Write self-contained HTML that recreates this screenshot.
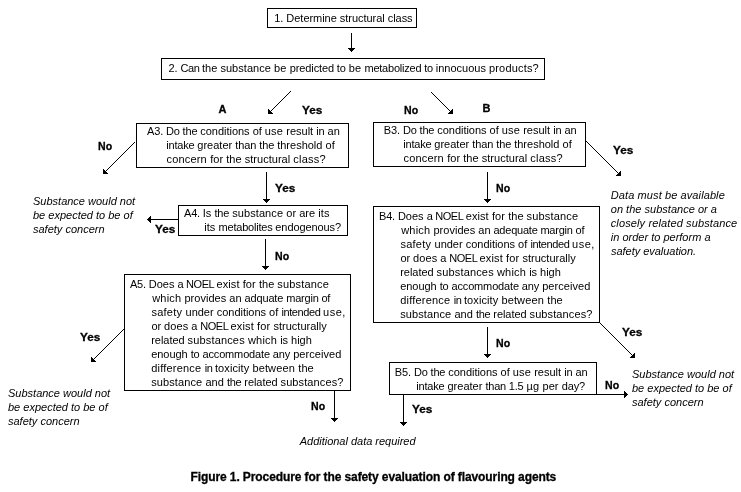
<!DOCTYPE html>
<html>
<head>
<meta charset="utf-8">
<title>Figure 1</title>
<style>
html,body{margin:0;padding:0;background:#fff;}
body{width:741px;height:492px;position:relative;overflow:hidden;font-family:"Liberation Sans",sans-serif;font-size:11px;line-height:14px;color:#000;}
.bx{position:absolute;border:1px solid #000;box-sizing:border-box;}
.t{position:absolute;white-space:pre;}
.b{font-weight:bold;-webkit-text-stroke:0.3px #000;}
.i{font-style:italic;}
.c{font-size:12px;}
svg{position:absolute;left:0;top:0;}
#w{position:absolute;left:0;top:0;width:741px;height:492px;will-change:transform;}
</style>
</head>
<body>
<div id="w">
<div class="bx" style="left:267px;top:8px;width:150px;height:20px;"></div>
<div class="bx" style="left:161px;top:58px;width:384px;height:22px;"></div>
<div class="bx" style="left:136px;top:123px;width:213px;height:45px;"></div>
<div class="bx" style="left:373px;top:122px;width:213px;height:45px;"></div>
<div class="bx" style="left:178px;top:205px;width:170px;height:31px;"></div>
<div class="bx" style="left:124px;top:274px;width:227px;height:117px;"></div>
<div class="bx" style="left:373px;top:206px;width:227px;height:117px;"></div>
<div class="bx" style="left:389px;top:362px;width:208px;height:33px;"></div>
<div class="t" style="left:274.25px;top:11px;letter-spacing:-0.037px;">1. Determine structural class</div>
<div class="t" style="left:168.5px;top:61px;"><span style="letter-spacing:-0.05px">2. </span><span style="letter-spacing:-0.487px">Can </span><span style="letter-spacing:0.037px">the </span><span style="letter-spacing:0.05px">substance </span><span style="letter-spacing:0.15px">be </span><span style="letter-spacing:-0.135px">predicted </span><span style="letter-spacing:-0.083px">to </span><span style="letter-spacing:0.117px">be </span><span style="letter-spacing:-0.225px">metabolized </span><span style="letter-spacing:-0.217px">to </span><span style="letter-spacing:0.005px">innocuous </span><span style="letter-spacing:0.175px">products?</span></div>
<div class="t" style="left:147px;top:124px;"><span style="letter-spacing:-0.15px">A3. </span><span style="letter-spacing:-0.171px">Do the </span><span style="letter-spacing:-0.018px">conditions </span><span style="letter-spacing:-0.033px">of </span><span style="letter-spacing:0.163px">use </span>result <span style="letter-spacing:-0.1px">in </span>an</div>
<div class="t" style="left:166.25px;top:138px;"><span style="letter-spacing:-0.193px">intake </span>greater <span style="letter-spacing:-0.1px">than </span><span style="letter-spacing:-0.088px">the </span><span style="letter-spacing:-0.005px">threshold </span><span style="letter-spacing:0.05px">of</span></div>
<div class="t" style="left:166.5px;top:152px;"><span style="letter-spacing:0.181px">concern </span><span style="letter-spacing:0.05px">for </span><span style="letter-spacing:0.025px">the </span><span style="letter-spacing:0.027px">structural </span><span style="letter-spacing:0.21px">class?</span></div>
<div class="t" style="left:383.75px;top:123px;"><span style="letter-spacing:-0.1px">B3. </span><span style="letter-spacing:-0.171px">Do the </span><span style="letter-spacing:-0.018px">conditions </span><span style="letter-spacing:-0.033px">of </span><span style="letter-spacing:0.162px">use </span>result <span style="letter-spacing:-0.1px">in </span>an</div>
<div class="t" style="left:403.25px;top:137px;"><span style="letter-spacing:-0.193px">intake </span>greater <span style="letter-spacing:-0.1px">than </span><span style="letter-spacing:-0.088px">the </span><span style="letter-spacing:-0.005px">threshold </span><span style="letter-spacing:0.05px">of</span></div>
<div class="t" style="left:403.5px;top:151px;"><span style="letter-spacing:0.181px">concern </span><span style="letter-spacing:0.05px">for </span><span style="letter-spacing:0.025px">the </span><span style="letter-spacing:0.027px">structural </span><span style="letter-spacing:0.21px">class?</span></div>
<div class="t" style="left:184px;top:206px;"><span style="letter-spacing:-0.2px">A4. </span><span style="letter-spacing:0.017px">Is </span><span style="letter-spacing:-0.137px">the </span><span style="letter-spacing:0.075px">substance </span><span style="letter-spacing:0.05px">or </span><span style="letter-spacing:0.013px">are </span><span style="letter-spacing:0.175px">its</span></div>
<div class="t" style="left:204.25px;top:220px;"><span style="letter-spacing:0.05px">its </span><span style="letter-spacing:-0.208px">metabolites </span><span style="letter-spacing:-0.09px">endogenous?</span></div>
<div class="t" style="left:130px;top:277px;"><span style="letter-spacing:-0.225px">A5. </span><span style="letter-spacing:0.01px">Does </span><span style="letter-spacing:-0.325px">a </span><span style="letter-spacing:-0.42px">NOEL </span><span style="letter-spacing:0.083px">exist </span><span style="letter-spacing:0.112px">for </span><span style="letter-spacing:-0.013px">the </span><span style="letter-spacing:0.175px">substance</span></div>
<div class="t" style="left:152.25px;top:291px;"><span style="letter-spacing:0.167px">which </span><span style="letter-spacing:0.028px">provides </span><span style="letter-spacing:-0.05px">an </span><span style="letter-spacing:-0.144px">adquate </span><span style="letter-spacing:-0.193px">margin </span><span style="letter-spacing:-0.25px">of</span></div>
<div class="t" style="left:151.5px;top:305px;"><span style="letter-spacing:0.229px">safety </span>under <span style="letter-spacing:-0.023px">conditions </span><span style="letter-spacing:0.033px">of </span><span style="letter-spacing:-0.406px">intended </span><span style="letter-spacing:0.5px">use,</span></div>
<div class="t" style="left:151.5px;top:319px;"><span style="letter-spacing:-0.083px">or </span><span style="letter-spacing:0.06px">does </span><span style="letter-spacing:-0.1px">a </span><span style="letter-spacing:-0.49px">NOEL </span><span style="letter-spacing:0.158px">exist </span><span style="letter-spacing:0.112px">for </span><span style="letter-spacing:0.014px">structurally</span></div>
<div class="t" style="left:151.25px;top:333px;"><span style="letter-spacing:-0.044px">related </span><span style="letter-spacing:0.155px">substances </span><span style="letter-spacing:0.175px">which </span><span style="letter-spacing:-0.067px">is </span>high</div>
<div class="t" style="left:151.25px;top:347px;"><span style="letter-spacing:-0.057px">enough </span><span style="letter-spacing:-0.133px">to </span><span style="letter-spacing:-0.15px">accommodate </span><span style="letter-spacing:-0.112px">any </span><span style="letter-spacing:0.069px">perceived</span></div>
<div class="t" style="left:151.25px;top:361px;"><span style="letter-spacing:0.2px">difference </span><span style="letter-spacing:-0.433px">in </span><span style="letter-spacing:0.083px">toxicity </span><span style="letter-spacing:0.15px">between </span><span style="letter-spacing:0.1px">the</span></div>
<div class="t" style="left:151.25px;top:375px;"><span style="letter-spacing:0.095px">substance </span><span style="letter-spacing:0.025px">and </span><span style="letter-spacing:-0.25px">the </span><span style="letter-spacing:-0.056px">related </span><span style="letter-spacing:0.11px">substances?</span></div>
<div class="t" style="left:379px;top:209px;"><span style="letter-spacing:-0.175px">B4. </span><span style="letter-spacing:0.01px">Does </span><span style="letter-spacing:-0.325px">a </span><span style="letter-spacing:-0.42px">NOEL </span><span style="letter-spacing:0.083px">exist </span><span style="letter-spacing:0.112px">for </span><span style="letter-spacing:-0.013px">the </span><span style="letter-spacing:0.175px">substance</span></div>
<div class="t" style="left:401.25px;top:223px;"><span style="letter-spacing:0.167px">which </span><span style="letter-spacing:0.028px">provides </span><span style="letter-spacing:-0.05px">an </span><span style="letter-spacing:-0.228px">adequate </span><span style="letter-spacing:-0.229px">margin </span><span style="letter-spacing:-0.05px">of</span></div>
<div class="t" style="left:400.5px;top:237px;"><span style="letter-spacing:0.229px">safety </span>under <span style="letter-spacing:-0.023px">conditions </span><span style="letter-spacing:0.033px">of </span><span style="letter-spacing:-0.406px">intended </span><span style="letter-spacing:0.5px">use,</span></div>
<div class="t" style="left:400.5px;top:251px;"><span style="letter-spacing:-0.083px">or </span><span style="letter-spacing:0.06px">does </span><span style="letter-spacing:-0.1px">a </span><span style="letter-spacing:-0.49px">NOEL </span><span style="letter-spacing:0.158px">exist </span><span style="letter-spacing:0.112px">for </span><span style="letter-spacing:0.014px">structurally</span></div>
<div class="t" style="left:400.25px;top:265px;"><span style="letter-spacing:-0.044px">related </span><span style="letter-spacing:0.155px">substances </span><span style="letter-spacing:0.175px">which </span><span style="letter-spacing:-0.067px">is </span>high</div>
<div class="t" style="left:400.25px;top:279px;"><span style="letter-spacing:-0.057px">enough </span><span style="letter-spacing:-0.133px">to </span><span style="letter-spacing:-0.15px">accommodate </span><span style="letter-spacing:-0.113px">any </span><span style="letter-spacing:0.069px">perceived</span></div>
<div class="t" style="left:400.25px;top:293px;"><span style="letter-spacing:0.2px">difference </span><span style="letter-spacing:-0.433px">in </span><span style="letter-spacing:0.083px">toxicity </span><span style="letter-spacing:0.15px">between </span><span style="letter-spacing:0.1px">the</span></div>
<div class="t" style="left:400.25px;top:307px;"><span style="letter-spacing:0.095px">substance </span><span style="letter-spacing:0.025px">and </span><span style="letter-spacing:-0.25px">the </span><span style="letter-spacing:-0.056px">related </span><span style="letter-spacing:0.11px">substances?</span></div>
<div class="t" style="left:394.75px;top:365px;"><span style="letter-spacing:-0.1px">B5. </span><span style="letter-spacing:-0.171px">Do the </span><span style="letter-spacing:-0.018px">conditions </span><span style="letter-spacing:-0.033px">of </span><span style="letter-spacing:0.162px">use </span>result <span style="letter-spacing:-0.1px">in </span>an</div>
<div class="t" style="left:416.25px;top:379px;"><span style="letter-spacing:-0.179px">intake </span><span style="letter-spacing:0.025px">greater </span><span style="letter-spacing:-0.25px">than </span><span style="letter-spacing:-0.163px">1.5 </span><span style="letter-spacing:0.183px">&micro;g </span><span style="letter-spacing:0.037px">per </span><span style="letter-spacing:-0.1px">day?</span></div>
<div class="t b" style="left:218.5px;top:102px;">A</div>
<div class="t b" style="left:482.5px;top:101px;">B</div>
<div class="t b" style="left:301.5px;top:103px;transform:scaleX(1.072);transform-origin:0 0;">Yes</div>
<div class="t b" style="left:403.5px;top:103px;transform:scaleX(0.96);transform-origin:0 0;">No</div>
<div class="t b" style="left:97.75px;top:139px;transform:scaleX(0.96);transform-origin:0 0;">No</div>
<div class="t b" style="left:612.5px;top:143px;transform:scaleX(1.072);transform-origin:0 0;">Yes</div>
<div class="t b" style="left:274.75px;top:181px;transform:scaleX(1.072);transform-origin:0 0;">Yes</div>
<div class="t b" style="left:495.75px;top:181px;transform:scaleX(0.96);transform-origin:0 0;">No</div>
<div class="t b" style="left:154.75px;top:222px;transform:scaleX(1.072);transform-origin:0 0;">Yes</div>
<div class="t b" style="left:274.75px;top:249px;transform:scaleX(0.96);transform-origin:0 0;">No</div>
<div class="t b" style="left:79.5px;top:330px;transform:scaleX(1.072);transform-origin:0 0;">Yes</div>
<div class="t b" style="left:310.75px;top:399px;transform:scaleX(0.96);transform-origin:0 0;">No</div>
<div class="t b" style="left:495.75px;top:336px;transform:scaleX(0.96);transform-origin:0 0;">No</div>
<div class="t b" style="left:621.75px;top:325px;transform:scaleX(1.072);transform-origin:0 0;">Yes</div>
<div class="t b" style="left:604.75px;top:378px;transform:scaleX(0.96);transform-origin:0 0;">No</div>
<div class="t b" style="left:411.75px;top:402px;transform:scaleX(1.072);transform-origin:0 0;">Yes</div>
<div class="t i" style="left:33px;top:194px;">Substance would not</div>
<div class="t i" style="left:33px;top:208px;">be expected to be of</div>
<div class="t i" style="left:33px;top:222px;">safety concern</div>
<div class="t i" style="left:8px;top:386px;">Substance would not</div>
<div class="t i" style="left:8px;top:400px;">be expected to be of</div>
<div class="t i" style="left:8px;top:414px;">safety concern</div>
<div class="t i" style="left:632px;top:367px;">Substance would not</div>
<div class="t i" style="left:632px;top:381px;">be expected to be of</div>
<div class="t i" style="left:632px;top:395px;">safety concern</div>
<div class="t i" style="left:610.75px;top:188px;letter-spacing:0.102px;">Data must be available</div>
<div class="t i" style="left:610.75px;top:202px;letter-spacing:0.018px;">on the substance or a</div>
<div class="t i" style="left:610.75px;top:216px;letter-spacing:0.123px;">closely related substance</div>
<div class="t i" style="left:610.75px;top:230px;letter-spacing:0.005px;">in order to perform a</div>
<div class="t i" style="left:611px;top:244px;letter-spacing:-0.032px;">safety evaluation.</div>
<div class="t i" style="left:299.75px;top:434px;letter-spacing:-0.017px;">Additional data required</div>
<div class="t b c" style="left:190.5px;top:470px;letter-spacing:-0.097px;">Figure 1. Procedure for the safety evaluation of flavouring agents</div>
<svg width="741" height="492" viewBox="0 0 741 492" shape-rendering="crispEdges">
<g stroke="#000" stroke-width="1" fill="none">
<line x1="291" y1="91" x2="268" y2="114"/>
<line x1="431" y1="92" x2="453" y2="114"/>
<line x1="135" y1="142" x2="103" y2="174"/>
<line x1="586" y1="141" x2="621" y2="176"/>
<line x1="124" y1="329" x2="91" y2="362"/>
<line x1="600" y1="323" x2="635" y2="358"/>
</g>
<path fill="#000" d="M351 33h1v19h-1zM348 48h7v1h-7zM349 49h5v1h-5zM350 50h3v1h-3zM351 51h1v1h-1zM266 172h1v31h-1zM263 199h7v1h-7zM264 200h5v1h-5zM265 201h3v1h-3zM266 202h1v1h-1zM487 172h1v31h-1zM484 199h7v1h-7zM485 200h5v1h-5zM486 201h3v1h-3zM487 202h1v1h-1zM265 239h1v31h-1zM262 266h7v1h-7zM263 267h5v1h-5zM264 268h3v1h-3zM265 269h1v1h-1zM487 327h1v31h-1zM484 354h7v1h-7zM485 355h5v1h-5zM486 356h3v1h-3zM487 357h1v1h-1zM334 391h1v31h-1zM331 418h7v1h-7zM332 419h5v1h-5zM333 420h3v1h-3zM334 421h1v1h-1zM403 395h1v31h-1zM400 422h7v1h-7zM401 423h5v1h-5zM402 424h3v1h-3zM403 425h1v1h-1zM147 219h31v1h-31zM147 219h1v1h-1zM148 218h1v3h-1zM149 217h1v5h-1zM150 216h1v7h-1zM597 394h31v1h-31zM627 394h1v1h-1zM626 393h1v3h-1zM625 392h1v5h-1zM624 391h1v7h-1zM268 113h5v1h-5zM268 112h4v1h-4zM268 111h3v1h-3zM268 110h2v1h-2zM268 109h1v1h-1zM448 113h5v1h-5zM449 112h4v1h-4zM450 111h3v1h-3zM451 110h2v1h-2zM452 109h1v1h-1zM103 173h5v1h-5zM103 172h4v1h-4zM103 171h3v1h-3zM103 170h2v1h-2zM103 169h1v1h-1zM616 175h5v1h-5zM617 174h4v1h-4zM618 173h3v1h-3zM619 172h2v1h-2zM620 171h1v1h-1zM91 361h5v1h-5zM91 360h4v1h-4zM91 359h3v1h-3zM91 358h2v1h-2zM91 357h1v1h-1zM630 357h5v1h-5zM631 356h4v1h-4zM632 355h3v1h-3zM633 354h2v1h-2zM634 353h1v1h-1z"/>
</svg>
</div>
</body>
</html>
